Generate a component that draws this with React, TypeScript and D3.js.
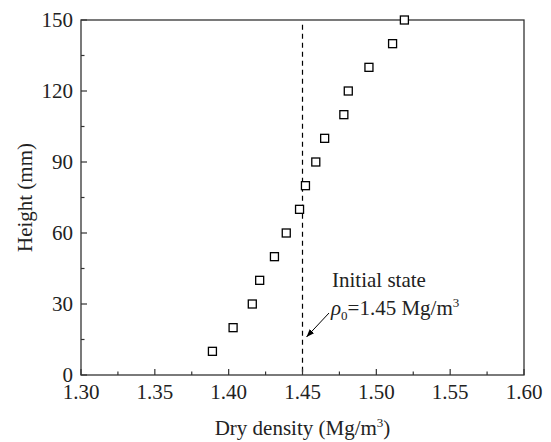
import React from "react";
import * as d3 from "d3";

const heights = [10, 20, 30, 40, 50, 60, 70, 80, 90, 100, 110, 120, 130, 140, 150];
const densities = [1.389, 1.403, 1.416, 1.421, 1.431, 1.439, 1.448, 1.452, 1.459, 1.465, 1.478, 1.481, 1.495, 1.511, 1.519];
const xTicks = [1.3, 1.35, 1.4, 1.45, 1.5, 1.55, 1.6];
const yTicks = [0, 30, 60, 90, 120, 150];
const initialDensity = 1.45;

const W = 551, H = 442;
const m = { left: 81, top: 20, right: 524, bottom: 375 };
const font = "'Liberation Serif', 'Times New Roman', serif";

export default function App() {
  const x = d3.scaleLinear().domain([1.3, 1.6]).range([m.left, m.right]);
  const y = d3.scaleLinear().domain([0, 150]).range([m.bottom, m.top]);
  const xMinor = d3.range(0, 6).map((i) => 1.325 + i * 0.05);
  const yMinor = d3.range(0, 5).map((i) => 15 + i * 30);
  const sq = 8;
  const dx = x(initialDensity);
  const c = "#333";
  const fs = 21;
  return (
    <svg width={W} height={H} style={{ position: "absolute", left: 0, top: 0, background: "#fff" }} fontFamily={font}>
      <defs>
        <marker id="ah" markerWidth="8" markerHeight="6" refX="8" refY="3" orient="auto" markerUnits="userSpaceOnUse">
          <path d="M0,0 L8,3 L0,6 Z" fill="#000" />
        </marker>
      </defs>
      <line x1={dx} x2={dx} y1={y(148)} y2={y(0)} stroke="#000" strokeWidth={1.2} strokeDasharray="5,4" />
      <rect x={m.left} y={m.top} width={m.right - m.left} height={m.bottom - m.top} fill="none" stroke={c} strokeWidth={1.3} />
      {xTicks.map((t) => (
        <g key={"xt" + t}>
          <line x1={x(t)} x2={x(t)} y1={m.bottom} y2={m.bottom - 6} stroke={c} strokeWidth={1.2} />
          <text x={x(t)} y={m.bottom + 24} textAnchor="middle" fontSize={fs} fill="#222">{t.toFixed(2)}</text>
        </g>
      ))}
      {xMinor.map((t) => (
        <line key={"xm" + t} x1={x(t)} x2={x(t)} y1={m.bottom} y2={m.bottom - 3.5} stroke={c} strokeWidth={1.2} />
      ))}
      {yTicks.map((t) => (
        <g key={"yt" + t}>
          <line x1={m.left} x2={m.left + 6} y1={y(t)} y2={y(t)} stroke={c} strokeWidth={1.2} />
          <text x={m.left - 8} y={y(t) + 7} textAnchor="end" fontSize={fs} fill="#222">{t}</text>
        </g>
      ))}
      {yMinor.map((t) => (
        <line key={"ym" + t} x1={m.left} x2={m.left + 3.5} y1={y(t)} y2={y(t)} stroke={c} strokeWidth={1.2} />
      ))}
      {heights.map((h, i) => (
        <rect key={"p" + i} x={x(densities[i]) - sq / 2} y={y(h) - sq / 2} width={sq} height={sq} fill="#fff" stroke="#000" strokeWidth={1.3} />
      ))}
      <text x={(m.left + m.right) / 2} y={435} textAnchor="middle" fontSize={fs} fill="#222">
        Dry density (Mg/m<tspan dy={-8} fontSize={13}>3</tspan><tspan dy={8}>)</tspan>
      </text>
      <text transform={`translate(32,${(m.top + m.bottom) / 2}) rotate(-90)`} textAnchor="middle" fontSize={fs} fill="#222">Height (mm)</text>
      <text x={332} y={287} fontSize={fs} fill="#222">Initial state</text>
      <text x={331} y={315} fontSize={fs} fill="#222">
        <tspan fontStyle="italic">ρ</tspan><tspan dy={5} fontSize={13}>0</tspan><tspan dy={-5}>=1.45 Mg/m</tspan><tspan dy={-8} fontSize={13}>3</tspan>
      </text>
      <line x1={329} y1={313} x2={dx + 4} y2={337} stroke="#000" strokeWidth={1} markerEnd="url(#ah)" />
    </svg>
  );
}
